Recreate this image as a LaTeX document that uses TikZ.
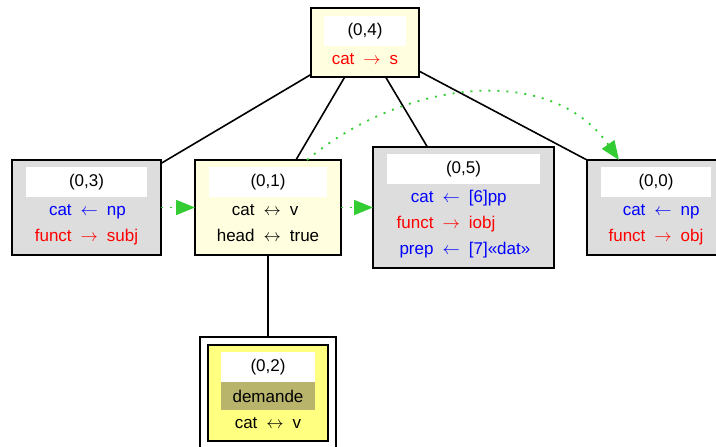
\documentclass[tikz,border=0pt]{standalone}
\usepackage{fontspec}
\setmainfont{Liberation Sans}
\usetikzlibrary{positioning,arrows.meta}

\definecolor{boxyellow}{HTML}{FFFFE0}
\definecolor{boxgray}{HTML}{DDDDDD}
\definecolor{lexyellow}{HTML}{FFFF80}
\definecolor{lexolive}{HTML}{B8B46B}
\definecolor{depgreen}{HTML}{33CC33}

\newcommand{\feat}[4]{\textcolor{#1}{#2} & \textcolor{#1}{$#3$} & \textcolor{#1}{#4}}
\newcommand{\feats}[1]{\begin{tabular}{@{}r@{\hspace{9pt}}c@{\hspace{9pt}}l@{}}#1\end{tabular}}

\begin{document}
\begin{tikzpicture}[x=1pt,
					y=1pt,
					font=\fontsize{17}{26}\selectfont,
					box node/.style={draw, line width=1.6pt, inner sep=0pt, outer sep=0pt},
					head node/.style={fill=white, inner sep=0pt, outer sep=0pt, minimum height=30pt},
					feat node/.style={inner sep=0pt, outer sep=0pt},
					edge/.style={line width=1.6pt},
					dep/.style={depgreen, line width=1.8pt, dash pattern=on 2pt off 7pt,
						-{Triangle[length=19pt,width=15pt]}}]

  \useasboundingbox (0,0) rectangle (716,-447);

  % (0,4)
  \node[box node, fill=boxyellow, minimum width=108pt, minimum height=69pt] (n04) at (365,-42.5) {};
  \node[head node, minimum width=82pt, below=8pt of n04.north] (h04) {(0,4)};
  \node[feat node, below=0pt of h04] (f04) {\feats{\feat{red}{cat}{\rightarrow}{s}}};

  % (0,3)
  \node[box node, fill=boxgray, minimum width=149pt, minimum height=95pt] (n03) at (86.5,-207.5) {};
  \node[head node, minimum width=121pt, below=7pt of n03.north] (h03) {(0,3)};
  \node[feat node, below=0pt of h03] (f03) {\feats{\feat{blue}{cat}{\leftarrow}{np}\\ \feat{red}{funct}{\rightarrow}{subj}}};

  % (0,1)
  \node[box node, fill=boxyellow, minimum width=146pt, minimum height=95pt] (n01) at (268,-207.5) {};
  \node[head node, minimum width=118pt, below=7pt of n01.north] (h01) {(0,1)};
  \node[feat node, below=0pt of h01] (f01) {\feats{\feat{black}{cat}{\leftrightarrow}{v}\\ \feat{black}{head}{\leftrightarrow}{true}}};

  % (0,5)
  \node[box node, fill=boxgray, minimum width=181pt, minimum height=121pt] (n05) at (463.5,-207.5) {};
  \node[head node, minimum width=153pt, below=7pt of n05.north] (h05) {(0,5)};
  \node[feat node, below=0pt of h05] (f05) {\feats{\feat{blue}{cat}{\leftarrow}{[6]pp}\\ \feat{red}{funct}{\rightarrow}{iobj}\\ \feat{blue}{prep}{\leftarrow}{[7]«dat»}}};

  % (0,0)
  \node[box node, fill=boxgray, minimum width=138pt, minimum height=95pt] (n00) at (656,-207.5) {};
  \node[head node, minimum width=110pt, below=7pt of n00.north] (h00) {(0,0)};
  \node[feat node, below=0pt of h00] (f00) {\feats{\feat{blue}{cat}{\leftarrow}{np}\\ \feat{red}{funct}{\rightarrow}{obj}}};

  % (0,2)
  \node[box node, line width=1.2pt, fill=white, minimum width=136pt, minimum height=112pt] (n02) at (268,-393) {};
  \node[box node, fill=lexyellow, minimum width=120pt, minimum height=96pt] (n02in) at (n02) {};
  \node[head node, minimum width=94pt, below=7pt of n02in.north] (h02) {(0,2)};
  \node[feat node, fill=lexolive, minimum width=94pt, minimum height=28pt, below=0pt of h02] (l02) {demande};
  \node[feat node, below=0pt of l02] (f02) {\feats{\feat{black}{cat}{\leftrightarrow}{v}}};

  \path[edge]
    (n04) edge (n03)
          edge (n01)
          edge (n05)
          edge (n00.north west)
    (n01) edge (n02);

  \draw[dep] (n03) -- (n01);
  \draw[dep] (n01) -- (n05);
  \draw[dep] ([xshift=39pt]n01.north) to[out=40, in=125] ([xshift=-37pt]n00.north);
\end{tikzpicture}
\end{document}
